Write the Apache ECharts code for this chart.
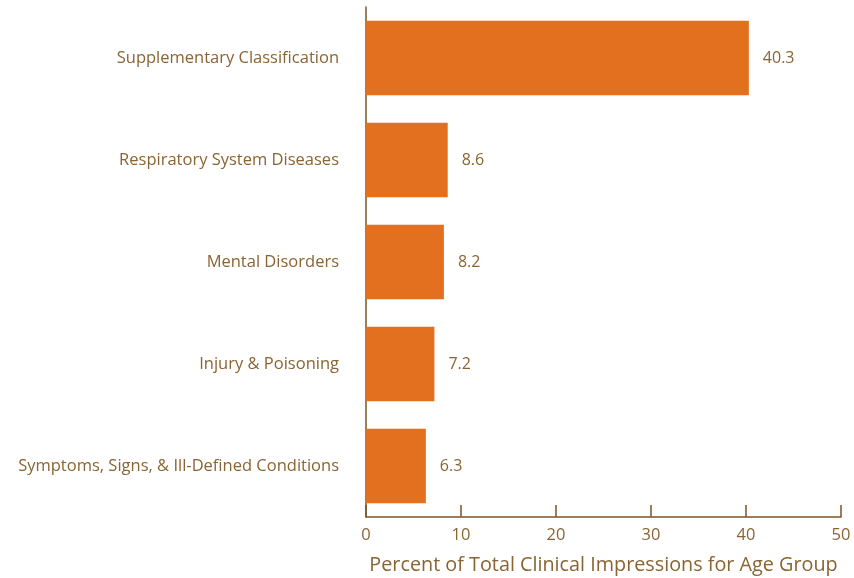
<!DOCTYPE html>
<html lang="en">
<head>
    <meta charset="utf-8">
    <title>Clinical Impressions</title>
    <script src="https://cdn.jsdelivr.net/npm/echarts@6/dist/echarts.min.js"></script>
    <style>
        body { margin: 0; background: #fff; }
    </style>
</head>
<body>
    <div id="main" style="width: 854px;height:578px;"></div>
    <script>
    // categories, top to bottom
    var categories = [
        'Supplementary Classification',
        'Respiratory System Diseases',
        'Mental Disorders',
        'Injury & Poisoning',
        'Symptoms, Signs, & Ill-Defined Conditions'
    ];
    var values = [40.3, 8.6, 8.2, 7.2, 6.3];
    var xTicks = [0, 10, 20, 30, 40, 50];

    var textColor = '#8a6432';
    var lineColor = '#7a5624';
    var font = 'Open Sans';

    var myChart = echarts.init(document.getElementById('main'));
    var option = {
        animation: false,
        grid: {
            left: 366,
            right: 13,
            top: 7,
            bottom: 61,
            containLabel: false,
            outerBoundsMode: 'none'
        },
        xAxis: {
            type: 'value',
            min: xTicks[0],
            max: xTicks[xTicks.length - 1],
            interval: 10,
            name: 'Percent of Total Clinical Impressions for Age Group',
            nameLocation: 'middle',
            nameGap: 38,
            nameTextStyle: {
                color: textColor,
                fontFamily: font,
                fontSize: 19.8
            },
            axisLine: { show: true, lineStyle: { color: lineColor, width: 1.5 } },
            axisTick: { show: true, inside: true, length: 12, lineStyle: { color: lineColor, width: 1.5 } },
            axisLabel: {
                color: textColor,
                fontFamily: font,
                fontSize: 16.5,
                margin: 10
            },
            splitLine: { show: false }
        },
        yAxis: {
            type: 'category',
            inverse: true,
            data: categories,
            axisLine: { show: true, lineStyle: { color: lineColor, width: 1.5 } },
            axisTick: { show: false },
            axisLabel: {
                color: textColor,
                fontFamily: font,
                fontSize: 16.5,
                margin: 27
            }
        },
        series: [
            {
                type: 'bar',
                data: values,
                barCategoryGap: '27%',
                itemStyle: { color: '#e3701e' },
                label: {
                    show: true,
                    position: 'right',
                    distance: 14,
                    color: textColor,
                    fontFamily: font,
                    fontSize: 16
                }
            }
        ]
    };
    myChart.setOption(option);
    </script>
</body>
</html>
